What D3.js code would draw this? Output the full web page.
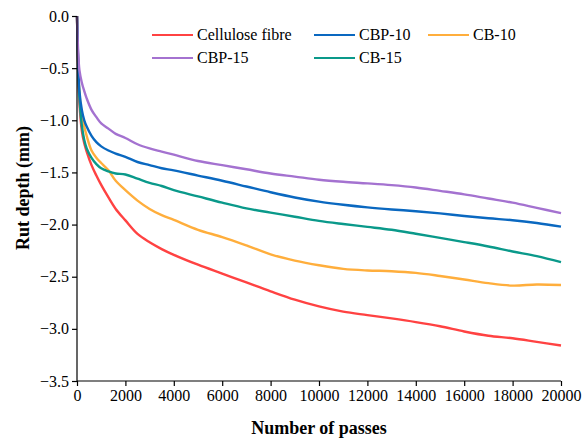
<!DOCTYPE html>
<html><head><meta charset="utf-8">
<script src="https://cdn.jsdelivr.net/npm/d3@7"></script>
<style>body{margin:0;background:#fff}svg{display:block}text{font-family:"Liberation Serif","Times New Roman",serif}</style>
</head><body>
<svg id="c" width="586" height="444"></svg>
<script>
const passes = [0,50,100,200,300,400,600,800,1000,1300,1600,2000,2500,3000,3500,4000,5000,6000,7000,8000,9000,10000,11000,12000,13000,14000,15000,16000,17000,18000,19000,20000];
const cellulose = [0,-0.55,-0.83,-1.10,-1.22,-1.30,-1.43,-1.53,-1.62,-1.74,-1.85,-1.96,-2.09,-2.17,-2.235,-2.29,-2.385,-2.47,-2.555,-2.64,-2.72,-2.785,-2.835,-2.868,-2.90,-2.935,-2.975,-3.025,-3.066,-3.09,-3.125,-3.16];
const cbp10 = [0,-0.45,-0.72,-0.90,-1.00,-1.06,-1.15,-1.21,-1.25,-1.29,-1.32,-1.35,-1.40,-1.43,-1.46,-1.48,-1.53,-1.58,-1.635,-1.69,-1.74,-1.78,-1.81,-1.835,-1.855,-1.872,-1.893,-1.918,-1.94,-1.958,-1.985,-2.02];
const cb10 = [0,-0.47,-0.74,-0.95,-1.06,-1.15,-1.29,-1.36,-1.41,-1.48,-1.58,-1.67,-1.77,-1.85,-1.91,-1.955,-2.05,-2.12,-2.20,-2.285,-2.345,-2.39,-2.425,-2.44,-2.447,-2.463,-2.493,-2.527,-2.562,-2.585,-2.575,-2.58];
const cbp15 = [0,-0.35,-0.52,-0.64,-0.72,-0.79,-0.90,-0.97,-1.03,-1.08,-1.13,-1.17,-1.23,-1.27,-1.30,-1.33,-1.39,-1.43,-1.47,-1.51,-1.54,-1.57,-1.59,-1.605,-1.622,-1.645,-1.677,-1.71,-1.75,-1.79,-1.84,-1.89];
const cb15 = [0,-0.5,-0.78,-1.05,-1.19,-1.27,-1.36,-1.42,-1.46,-1.49,-1.51,-1.52,-1.56,-1.60,-1.63,-1.67,-1.73,-1.79,-1.845,-1.885,-1.925,-1.965,-1.995,-2.022,-2.05,-2.088,-2.128,-2.168,-2.21,-2.258,-2.302,-2.36];
const seriesNames = ["Cellulose fibre","CBP-10","CB-10","CBP-15","CB-15"];
const seriesValues = [cellulose,cbp10,cb10,cbp15,cb15];
const seriesColors = ["#ff4242","#0a68c0","#ffae3c","#a472d0","#0a998a"];
const xTicks = [0,2000,4000,6000,8000,10000,12000,14000,16000,18000,20000];
const yTicks = [0,-0.5,-1.0,-1.5,-2.0,-2.5,-3.0,-3.5];

const svg = d3.select("#c");
const x = d3.scaleLinear().domain([0,20000]).range([77,561]);
const y = d3.scaleLinear().domain([-3.5,0]).range([381,16]);

// lines
const line = d3.line().x((d,i)=>x(passes[i])).y(d=>y(d)).curve(d3.curveCatmullRom.alpha(0.5));
const order = [0,2,4,1,3];
order.forEach(k=>{
  svg.append("path").attr("d",line(seriesValues[k])).attr("fill","none")
    .attr("stroke",seriesColors[k]).attr("stroke-width",2.4).attr("stroke-linejoin","round");
});

// axes
const fmtY = d=> d3.format(".1f")(d).replace("-","\u2212");
const gy = svg.append("g").attr("transform","translate(77,0)")
  .call(d3.axisLeft(y).tickValues(yTicks).tickFormat(fmtY).tickSize(5).tickPadding(3));
const gx = svg.append("g").attr("transform","translate(0,381)")
  .call(d3.axisBottom(x).tickValues(xTicks).tickFormat(d3.format("d")).tickSize(5).tickPadding(4));
[gx,gy].forEach(g=>{
  g.attr("font-family","Liberation Serif, serif").attr("font-size",16);
  g.select(".domain").attr("stroke","#000").attr("stroke-width",1.2);
  g.selectAll(".tick line").attr("stroke","#000").attr("stroke-width",1.2);
  g.selectAll("text").attr("fill","#000").style("font-family","'Liberation Serif', serif");
});
gy.select(".domain").attr("d","M0,381V16");
gx.select(".domain").attr("d","M77,0H561");

// titles
svg.append("text").attr("x",319).attr("y",434).attr("text-anchor","middle")
  .style("font-size","18px").style("font-weight","bold").text("Number of passes");
svg.append("text").attr("transform","translate(29,188) rotate(-90)").attr("text-anchor","middle")
  .style("font-size","18px").style("font-weight","bold").text("Rut depth (mm)");

// legend
const legPos = [[152,35],[314,35],[428,35],[152,58],[314,58]];
seriesNames.forEach((n,i)=>{
  const [lx,ly]=legPos[i];
  svg.append("line").attr("x1",lx).attr("x2",lx+41).attr("y1",ly).attr("y2",ly)
    .attr("stroke",seriesColors[i]).attr("stroke-width",2);
  svg.append("text").attr("x",lx+45).attr("y",ly+5).style("font-size","16px").attr("fill","#000").text(n);
});
</script>
</body></html>
